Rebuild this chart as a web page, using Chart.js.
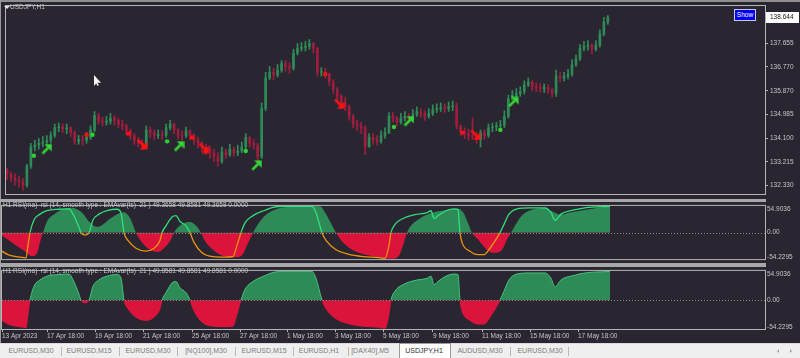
<!DOCTYPE html>
<html>
<head>
<meta charset="utf-8">
<title>USDJPY,H1</title>
<script src="https://cdn.jsdelivr.net/npm/chart.js@4.4.1/dist/chart.umd.min.js"></script>
<style>
  html, body { margin:0; padding:0; }
  body { width:800px; height:358px; overflow:hidden; background:#2a2631; font-family:"Liberation Sans", Arial, sans-serif; }
  #wrap { position:relative; width:800px; height:358px; }
  canvas { position:absolute; left:0; display:block; }
  .lbl { position:absolute; color:#c8c8c8; white-space:nowrap; line-height:1; }
  .band { position:absolute; background:#a8a8a8; }
  #tabs { position:absolute; left:0; top:343px; width:800px; height:15px; background:#efefef; border-top:1px solid #dadada; box-sizing:border-box; }
  .tab { position:absolute; top:0; height:14px; line-height:14px; font-size:7px; color:#7d7d7d; transform:translateX(-50%); white-space:nowrap; }
  .tsep { position:absolute; top:3px; width:1px; height:9px; background:#b8b8b8; }
  #active { position:absolute; left:399px; top:-1px; width:52px; height:15px; background:#fff; border:1px solid #9c9c9c; border-bottom:none; box-sizing:border-box; }
  #showbtn { position:absolute; left:734px; top:9px; width:22px; height:12px; background:#0000f0; border:1px solid #c8c8e8; box-sizing:border-box; color:#fff; font-size:6.5px; line-height:10px; text-align:center; }
  #cursor { position:absolute; left:94px; top:75px; width:7px; height:11px; background:#f4f4f4; clip-path:polygon(0 0,0 100%,30% 78%,52% 100%,70% 92%,48% 70%,100% 70%); }
</style>
</head>
<body>
<div id="wrap">
  <canvas id="c0" width="800" height="200" style="top:0"></canvas>
  <canvas id="c1" width="800" height="65" style="top:200px"></canvas>
  <canvas id="c2" width="800" height="78" style="top:265px"></canvas>

  <div class="band" style="left:0;top:0;width:800px;height:2px;background:#8e8e8e"></div>
  <div class="band" style="left:0;top:0;width:1px;height:343px;background:#9a9a9a"></div>
  <div class="band" style="left:0;top:199px;width:766px;height:3px"></div>
  <div class="band" style="left:0;top:263px;width:766px;height:4px"></div>

  <div style="position:absolute;left:4px;top:6px;width:0;height:0;border-left:3px solid transparent;border-right:3px solid transparent;border-top:3px solid #e0e0e0"></div>
  <div class="lbl" style="left:10px;top:4px;font-size:6.5px">USDJPY,H1</div>
  <div id="showbtn">Show</div>
  <div id="cursor"></div>

  <div class="lbl" style="left:3px;top:202px;font-size:6.5px">H1 RSI(ma)&nbsp; rsi (14, smooth type : EMAvar(ts)&nbsp; 21 ) 49.3658 49.8581 49.3658 0.0000</div>
  <div class="lbl" style="left:3px;top:268px;font-size:6.5px">H1 RSI(ma)&nbsp; rsi (14, smooth type : EMAvar(ts)&nbsp; 21 ) 49.8581 49.8581 49.8581 0.0000</div>

  <div id="tabs">
    <div id="active"></div>
    <div class="tab" style="left:31px">EURUSD,M30</div>
    <div class="tsep" style="left:61px"></div>
    <div class="tab" style="left:89px">EURUSD,M15</div>
    <div class="tsep" style="left:119px"></div>
    <div class="tab" style="left:148px">EURUSD,M30</div>
    <div class="tsep" style="left:177px"></div>
    <div class="tab" style="left:206px">[NQ100],M30</div>
    <div class="tsep" style="left:235px"></div>
    <div class="tab" style="left:264px">EURUSD,M15</div>
    <div class="tsep" style="left:293px"></div>
    <div class="tab" style="left:319px">EURUSD,H1</div>
    <div class="tsep" style="left:348px"></div>
    <div class="tab" style="left:370px">[DAX40],M5</div>
    <div class="tab" style="left:424px;color:#303030">USDJPY,H1</div>
    <div class="tab" style="left:480px">AUDUSD,M30</div>
    <div class="tsep" style="left:510px"></div>
    <div class="tab" style="left:540px">EURUSD,M30</div>
    <div class="tsep" style="left:568px"></div>
    <div style="position:absolute;left:777px;top:5px;width:0;height:0;border-top:2px solid transparent;border-bottom:2px solid transparent;border-right:2px solid #a0a0a0"></div>
    <div style="position:absolute;left:790px;top:5px;width:0;height:0;border-top:2px solid transparent;border-bottom:2px solid transparent;border-left:2px solid #a0a0a0"></div>
  </div>
</div>

<script>
// ---------------- DATA ----------------
// H1 bars grouped by 4 hours
const barStepHours = 4;
const firstOpen = 132.90;
const priceCloses = [132.76,132.61,132.51,132.47,132.33,133.05,133.77,133.84,133.91,133.95,
134.02,134.20,134.49,134.52,134.45,134.49,134.31,133.98,134.05,134.02,
134.13,134.41,134.95,134.74,134.70,134.74,134.85,134.77,134.63,134.56,
134.38,134.20,134.02,133.91,133.84,134.41,134.31,134.20,134.23,134.20,
134.49,134.63,134.41,134.20,134.18,134.38,134.20,134.02,133.91,133.77,
133.69,133.55,133.41,133.23,133.59,133.48,133.69,133.55,133.62,133.77,
134.13,133.91,133.84,133.41,135.21,136.36,136.57,136.47,136.65,136.90,
136.79,136.72,137.29,137.47,137.51,137.55,137.65,137.47,136.57,136.59,
136.50,136.21,135.93,135.67,135.42,135.28,134.92,134.63,134.56,134.49,
133.77,134.13,134.05,133.98,134.20,134.31,134.92,134.85,134.70,134.85,
134.92,134.81,134.99,135.10,135.03,134.92,135.03,135.17,135.21,135.24,
135.21,135.28,135.31,134.56,134.34,134.27,134.20,134.16,134.05,134.31,
134.20,134.49,134.52,134.56,134.59,134.92,135.57,135.71,135.78,135.85,
136.11,136.21,136.03,136.00,135.96,136.00,135.93,135.78,136.43,136.36,
136.43,136.50,136.86,137.08,137.47,137.55,137.58,137.44,137.58,138.01,
138.45,138.644];
const priceHighs = [132.97,132.83,132.76,132.69,132.58,133.12,133.91,134.02,134.09,134.16,
134.20,134.34,134.63,134.67,134.63,134.63,134.52,134.38,134.20,134.20,
134.31,134.56,135.10,135.03,134.88,134.92,135.03,134.95,134.85,134.77,
134.63,134.45,134.27,134.13,134.05,134.56,134.52,134.41,134.41,134.38,
134.63,134.77,134.67,134.45,134.38,134.52,134.41,134.27,134.13,133.98,
133.87,133.80,133.69,133.55,133.77,133.69,133.87,133.77,133.84,133.95,
134.27,134.16,134.05,133.91,135.42,136.57,136.79,136.72,136.86,137.01,
137.01,136.93,137.44,137.65,137.69,137.73,137.80,137.69,137.51,136.75,
136.72,136.54,136.29,136.00,135.75,135.64,135.35,134.99,134.77,134.70,
134.56,134.27,134.27,134.20,134.38,134.49,135.06,135.06,134.92,135.03,
135.10,135.03,135.17,135.28,135.21,135.13,135.21,135.35,135.39,135.42,
135.39,135.46,135.49,135.42,134.59,134.49,134.45,134.85,134.31,134.41,
134.41,134.63,134.67,134.70,134.77,135.13,135.71,135.89,135.96,136.03,
136.25,136.36,136.25,136.18,136.14,136.14,136.11,135.96,136.65,136.57,
136.57,136.68,137.04,137.22,137.62,137.73,137.76,137.65,137.76,138.16,
138.63,138.70];
const priceLows = [132.54,132.47,132.33,132.26,132.15,132.26,132.97,133.62,133.69,133.77,
133.80,133.91,134.13,134.34,134.31,134.27,134.16,133.87,133.87,133.84,
133.91,134.05,134.34,134.63,134.56,134.59,134.63,134.59,134.49,134.41,
134.23,134.05,133.87,133.77,133.66,133.80,134.13,134.05,134.09,134.05,
134.13,134.41,134.27,134.05,134.02,134.13,134.05,133.87,133.73,133.59,
133.48,133.33,133.23,133.05,133.15,133.33,133.41,133.41,133.44,133.55,
133.69,133.77,133.69,133.26,133.33,135.13,136.29,136.29,136.39,136.57,
136.61,136.54,136.65,137.22,137.37,137.37,137.44,137.29,136.43,136.43,
136.36,136.07,135.78,135.49,135.28,135.13,134.77,134.49,134.38,134.27,
133.48,133.77,133.87,133.84,133.91,134.09,134.27,134.70,134.56,134.63,
134.74,134.67,134.77,134.92,134.88,134.77,134.85,134.95,135.06,135.10,
135.06,135.10,135.13,134.45,134.20,134.09,134.02,134.05,133.91,133.77,
134.05,134.13,134.34,134.38,134.41,134.49,134.85,135.53,135.60,135.67,
135.75,136.03,135.89,135.85,135.82,135.82,135.78,135.64,135.67,136.21,
136.25,136.32,136.43,136.79,137.01,137.37,137.40,137.26,137.37,137.51,
137.94,138.37];
const lastPrice = 138.644;
const priceMin = 132.006, priceMax = 139.058;
const priceTicks = [138.540, 137.655, 136.770, 135.870, 134.985, 134.100, 133.215, 132.330];

// signal markers (hour index, price)
const greenDotHours = [28, 87, 162, 241, 390, 497];
const greenDotPrices = [133.44, 134.23, 133.98, 133.62, 134.52, 134.41];
const redDotHours = [81, 123, 187, 321, 459];
const redDotPrices = [134.23, 134.27, 134.13, 136.50, 134.31];
const buyArrowHours = [41, 174, 252, 405, 510];
const buyArrowPrices = [133.69, 133.80, 133.08, 134.74, 135.46];
const sellArrowHours = [137, 199, 335, 472];
const sellArrowPrices = [133.87, 133.73, 135.39, 134.23];

// time axis
const hourMin = 0, hourMax = 763;
const timeTickHours = [0, 45, 93, 141, 190, 238, 285, 333, 381, 431, 480, 528, 576];
const timeTickLabels = ["13 Apr 2023","17 Apr 18:00","19 Apr 18:00","21 Apr 18:00","25 Apr 18:00","27 Apr 18:00","1 May 18:00","3 May 18:00","5 May 18:00","9 May 18:00","11 May 18:00","15 May 18:00","17 May 18:00"];

// RSI(ma) oscillator
const rsiMin = -54.2295, rsiMax = 54.9036;
const rsiTicks = [54.9036, 0, -54.2295];
const rsiSlowHours = [0,10,22,30,35,39,41,45,53,61,69,75,81,87,95,101,109,116,122,128,134,140,148,156,162,168,172,176,182,188,193,199,203,211,219,227,235,241,245,251,255,262,274,286,298,310,318,322,328,334,341,353,365,377,389,397,401,405,409,416,424,432,440,448,456,462,466,470,476,482,490,495,501,505,509,513,519,527,535,543,549,555,559,567,578,590,602,608];
const rsiSlowValues = [-6,-20,-37,-48,-42,-12,0,23,39,48,51,48,39,23,12,17,30,39,42,30,0,-20,-35,-39.5,-32,-17,0,11,20,22,16,0,-17,-35,-46,-50.6,-50.6,-44,-26,0,14,33,48,53,54.9,54.9,54,45,23,0,-20,-38,-46,-50.6,-53.7,-47.5,-26,0,14,26.5,36,42,45,47,49,39,20,0,-13.5,-29,-41,-41,-32,-13.5,0,14,33,45,49,51,45,39,37,41,45,49,53,54];
const rsiFastHours = [0,6,14,22,24,26,28,32,38,45,57,67,71,77,79,83,87,91,97,105,115,119,122,126,134,144,152,158,160,164,170,174,178,184,188,192,200,211,223,231,235,239,243,251,263,271,282,310,314,320,324,334,346,361,377,383,387,389,393,401,413,425,429,432,436,444,452,456,458,460,468,476,482,488,498,502,507,515,527,543,549,553,559,571,583,608];
const rsiFastValues = [-38,-45,-49,-51,-52,-26,0,26,38,45,48,49,38,11,0,-5,0,26,38,45,48,41,0,-16,-32,-38,-32,-16,0,14,32,35,23,14,0,-20,-41,-49,-50,-49,-26,0,20,35,46,52,54,54,41,0,-16,-35,-44,-49,-51,-53,-26,0,17,29,37,41,45,29,35,45,49,48,0,-20,-38,-45,-45,-32,0,17,38,49,51,51,41,25,38,46,51,54];

// ---------------- STYLE ----------------
const FONT = '"Liberation Sans", Arial, sans-serif';
const axisText = '#c4c4c4';
const frameColor = '#b4b4b4';
const upColor = '#2e8b57', downColor = '#a01d3e';
const fillUp = '#2e8b57', fillDown = '#dc143c';
const lineUp = '#2ee07c', lineDown = '#eb930e';

Chart.defaults.animation = false;
Chart.defaults.font.family = FONT;
Chart.defaults.font.size = 6.5;
Chart.defaults.plugins.legend.display = false;
Chart.defaults.plugins.tooltip.enabled = false;
Chart.defaults.events = [];

function makeArrow(color, up) {
  const c = document.createElement('canvas');
  c.width = 11; c.height = 11;
  const g = c.getContext('2d');
  g.fillStyle = color; g.strokeStyle = color; g.lineWidth = 2.6;
  g.beginPath();
  if (up) { g.moveTo(1.2, 9.8); g.lineTo(7, 4); } else { g.moveTo(1.2, 1.2); g.lineTo(7, 7); }
  g.stroke();
  g.beginPath();
  if (up) { g.moveTo(10.6, 0.4); g.lineTo(10.6, 8); g.lineTo(3, 0.4); }
  else { g.moveTo(10.6, 10.6); g.lineTo(10.6, 3); g.lineTo(3, 10.6); }
  g.closePath(); g.fill();
  return c;
}

const framePlugin = {
  id: 'frame',
  afterDraw(chart) {
    const { ctx, chartArea: a } = chart;
    ctx.save();
    ctx.strokeStyle = frameColor; ctx.lineWidth = 1;
    ctx.strokeRect(a.left - 0.5, a.top - 0.5, a.right - a.left + 1, a.bottom - a.top + 1);
    ctx.restore();
  }
};

// keep edge labels of the oscillator axis inside its panel, as the terminal does
const clampLabels = {
  id: 'clampLabels',
  beforeDraw(chart) {
    const s = chart.scales.y, a = chart.chartArea;
    const items = s.getLabelItems(a);
    items.forEach(it => {
      const t = it.options.translation;
      t[1] = Math.min(Math.max(t[1], a.top + 3.5), a.bottom - 2);
    });
  }
};

const zeroLine = {
  id: 'zeroLine',
  afterDatasetDraw(chart, args) {
    if (args.index !== 1) return;
    const { ctx, chartArea: a } = chart;
    const y = Math.round(chart.scales.y.getPixelForValue(0)) + 0.5;
    ctx.save();
    ctx.strokeStyle = '#8a8a8a'; ctx.lineWidth = 1; ctx.setLineDash([1, 2]);
    ctx.beginPath(); ctx.moveTo(a.left, y); ctx.lineTo(a.right, y); ctx.stroke();
    ctx.restore();
  }
};

const priceTag = {
  id: 'priceTag',
  afterDraw(chart) {
    const { ctx, chartArea: a } = chart;
    const y = Math.round(chart.scales.y.getPixelForValue(lastPrice));
    ctx.save();
    ctx.fillStyle = '#ffffff';
    ctx.fillRect(a.right + 1, y - 5, 33, 11);
    ctx.fillStyle = '#202020';
    ctx.font = '6.5px ' + FONT;
    ctx.textBaseline = 'middle';
    ctx.fillText(lastPrice.toFixed(3), a.right + 5, y + 0.5);
    ctx.restore();
  }
};

// ---------------- MAIN PRICE CHART ----------------
const opens = priceCloses.map((c, i) => i === 0 ? firstOpen : priceCloses[i - 1]);
const barHours = priceCloses.map((c, i) => i * barStepHours + 1);
const barColors = priceCloses.map((c, i) => c >= opens[i] ? upColor : downColor);
const pts = (hs, vs) => hs.map((h, i) => ({ x: h, y: vs[i] }));

new Chart(document.getElementById('c0'), {
  type: 'bar',
  data: {
    datasets: [
      { type: 'scatter', data: pts(buyArrowHours, buyArrowPrices), pointStyle: makeArrow('#36d636', true), pointRadius: 5, order: 0 },
      { type: 'scatter', data: pts(sellArrowHours, sellArrowPrices), pointStyle: makeArrow('#ff1212', false), pointRadius: 5, order: 0 },
      { type: 'scatter', data: pts(greenDotHours, greenDotPrices), pointRadius: 2.2, pointBorderWidth: 0, pointBackgroundColor: '#30d030', order: 1 },
      { type: 'scatter', data: pts(redDotHours, redDotPrices), pointRadius: 2.2, pointBorderWidth: 0, pointBackgroundColor: '#ff1010', order: 1 },
      { type: 'bar', data: barHours.map((h, i) => ({ x: h, y: [opens[i], priceCloses[i]] })), backgroundColor: barColors, barThickness: 2, grouped: false, order: 3 },
      { type: 'bar', data: barHours.map((h, i) => ({ x: h, y: [priceLows[i], priceHighs[i]] })), backgroundColor: barColors, barThickness: 1, grouped: false, order: 4 }
    ]
  },
  options: {
    responsive: false,
    layout: { padding: { left: 2, top: 3, right: 0, bottom: 1 } },
    scales: {
      x: { type: 'linear', min: hourMin, max: hourMax, offset: false, display: false },
      y: {
        position: 'right', min: priceMin, max: priceMax,
        afterBuildTicks: s => { s.ticks = priceTicks.map(v => ({ value: v })); },
        afterFit: s => { s.width = 35; },
        ticks: { color: axisText, padding: 2, autoSkip: false, font: { size: 6.5 }, callback: v => Number(v).toFixed(3) },
        grid: { drawOnChartArea: false, color: frameColor, tickLength: 3 },
        border: { color: frameColor }
      }
    }
  },
  plugins: [framePlugin, priceTag]
});

// ---------------- OSCILLATOR PANELS ----------------
function rsiY() {
  return {
    position: 'right', min: rsiMin, max: rsiMax,
    afterBuildTicks: s => { s.ticks = rsiTicks.map(v => ({ value: v })); },
    afterFit: s => { s.width = 35; },
    ticks: { color: axisText, padding: 2, autoSkip: false, font: { size: 6.5 }, callback: v => v === 0 ? '0.00' : Number(v).toFixed(4) },
    grid: { drawOnChartArea: false, drawTicks: false },
    border: { color: frameColor }
  };
}

new Chart(document.getElementById('c1'), {
  type: 'line',
  data: {
    datasets: [
      { data: pts(rsiFastHours, rsiFastValues), borderWidth: 1.3, pointRadius: 0, fill: false,
        cubicInterpolationMode: 'monotone', order: 0,
        segment: { borderColor: c => (c.p0.parsed.y + c.p1.parsed.y) >= 0 ? lineUp : lineDown } },
      { data: pts(rsiSlowHours, rsiSlowValues), borderWidth: 0, pointRadius: 0,
        cubicInterpolationMode: 'monotone', order: 1,
        fill: { target: 'origin', above: fillUp, below: fillDown } }
    ]
  },
  options: {
    responsive: false,
    layout: { padding: { left: 2, top: 2, right: 0, bottom: 2 } },
    scales: {
      x: { type: 'linear', min: hourMin, max: hourMax, display: false },
      y: rsiY()
    }
  },
  plugins: [framePlugin, clampLabels, zeroLine]
});

new Chart(document.getElementById('c2'), {
  type: 'line',
  data: {
    datasets: [
      { data: [], pointRadius: 0, order: 0 },
      { data: pts(rsiFastHours, rsiFastValues), borderWidth: 1, pointRadius: 0,
        cubicInterpolationMode: 'monotone', order: 1,
        segment: { borderColor: c => (c.p0.parsed.y + c.p1.parsed.y) >= 0 ? '#46c27e' : fillDown },
        fill: { target: 'origin', above: fillUp, below: fillDown } }
    ]
  },
  options: {
    responsive: false,
    layout: { padding: { left: 2, top: 2, right: 0, bottom: 0 } },
    scales: {
      x: {
        type: 'linear', position: 'bottom', min: hourMin, max: hourMax, offset: false,
        afterBuildTicks: s => { s.ticks = timeTickHours.map(v => ({ value: v })); },
        afterFit: s => { s.height = 14; },
        ticks: { color: axisText, padding: 0, autoSkip: false, maxRotation: 0, minRotation: 0, align: 'start',
                 font: { size: 6.5 }, callback: (v, i) => timeTickLabels[i] },
        grid: { drawOnChartArea: false, color: frameColor, tickLength: 3 },
        border: { color: frameColor }
      },
      y: rsiY()
    }
  },
  plugins: [framePlugin, clampLabels, zeroLine]
});
</script>
</body>
</html>
